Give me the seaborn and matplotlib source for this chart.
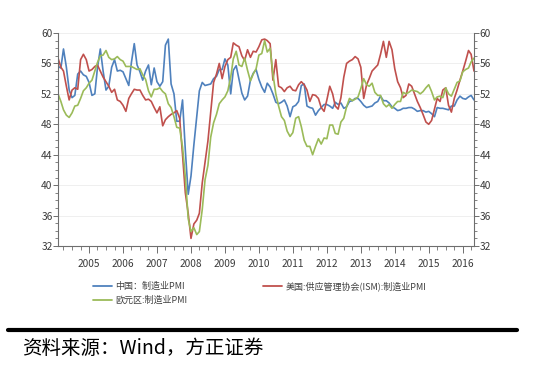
import pandas as pd
import matplotlib
matplotlib.use("Agg")
import matplotlib.pyplot as plt
import matplotlib.dates as mdates
from matplotlib.lines import Line2D
from matplotlib.ticker import MultipleLocator
import seaborn as sns

# monthly data, Jan 2005 - Apr 2017
months = pd.date_range("2005-01-01", periods=148, freq="MS")

china_pmi = [
    55.6, 55.4, 57.9, 55.5, 52.5, 51.5, 51.8, 54.6, 55.0, 54.5, 54.3, 53.5,  # 2005
    51.8, 52.0, 55.4, 57.9, 55.0, 52.5, 53.0, 55.5, 56.5, 55.0, 55.1, 54.9,  # 2006
    54.0, 53.1, 56.1, 58.6, 55.8, 54.9, 53.8, 55.0, 55.8, 53.2, 55.4, 53.6,  # 2007
    53.0, 53.6, 58.4, 59.2, 53.3, 52.0, 48.4, 48.4, 51.2, 44.6, 38.8, 41.2,  # 2008
    45.3, 49.0, 52.4, 53.5, 53.1, 53.2, 53.3, 54.0, 54.3, 55.2, 55.2, 56.6,  # 2009
    55.8, 52.0, 55.1, 55.7, 53.9, 52.1, 51.2, 51.7, 53.8, 54.7, 55.2, 53.9,  # 2010
    52.9, 52.2, 53.4, 52.9, 52.0, 50.9, 50.7, 50.9, 51.2, 50.4, 49.0, 50.3,  # 2011
    50.5, 51.0, 53.1, 53.3, 50.4, 50.2, 50.1, 49.2, 49.8, 50.2, 50.6, 50.6,  # 2012
    50.4, 50.1, 50.9, 50.6, 50.8, 50.1, 50.3, 51.0, 51.1, 51.4, 51.4, 51.0,  # 2013
    50.5, 50.2, 50.3, 50.4, 50.8, 51.0, 51.7, 51.1, 51.1, 50.8, 50.3, 50.1,  # 2014
    49.8, 49.9, 50.1, 50.1, 50.2, 50.2, 50.0, 49.7, 49.8, 49.8, 49.6, 49.7,  # 2015
    49.4, 49.0, 50.2, 50.1, 50.1, 50.0, 49.9, 50.4, 50.4, 51.2, 51.7, 51.4,  # 2016
    51.3, 51.6, 51.8, 51.2,                                                  # 2017
]

us_ism_pmi = [
    56.7, 55.5, 55.0, 53.0, 51.2, 52.5, 52.8, 52.6, 56.5, 57.2, 56.5, 55.0,
    55.2, 55.6, 55.8, 55.0, 54.2, 53.6, 53.0, 52.2, 52.6, 51.2, 51.0, 50.5,
    49.7, 51.4, 52.0, 52.6, 52.5, 52.5, 51.8, 51.2, 51.3, 51.0, 50.2, 49.5,
    50.3, 47.8, 48.6, 49.0, 49.3, 49.5, 49.8, 48.8, 44.0, 39.0, 36.3, 33.0,
    34.9, 35.4, 36.3, 40.3, 43.0, 45.8, 49.6, 53.5, 54.6, 56.0, 54.0, 55.6,
    56.5, 56.8, 58.7, 58.4, 58.2, 57.0, 56.4, 57.8, 56.8, 57.6, 57.5, 58.2,
    59.1, 59.2, 59.0, 58.6, 53.8, 56.5, 53.0, 52.8, 52.3, 52.8, 53.0, 52.5,
    52.4, 53.2, 53.6, 53.2, 52.5, 51.0, 51.9, 51.8, 51.4, 50.2, 49.7, 51.2,
    53.0, 52.0, 50.4, 50.0, 51.5, 54.2, 56.0, 56.3, 56.5, 56.9, 56.6, 55.5,
    51.4, 53.2, 54.0, 55.0, 55.4, 55.8, 57.2, 58.9, 56.8, 58.9, 57.8, 55.3,
    53.6, 52.8, 51.5, 51.8, 53.3, 53.0, 52.0, 51.0, 50.2, 49.3, 48.3, 48.0,
    48.5, 50.0, 51.4, 51.0, 52.5, 52.8, 50.5, 49.6, 51.4, 52.5, 53.8, 55.0,
    56.3, 57.7, 57.2, 55.0,
]

euro_pmi = [
    52.0, 51.0, 49.9, 49.2, 48.9, 49.5, 50.4, 50.5, 51.4, 52.4, 52.8, 53.4,
    53.8, 55.0, 56.1, 57.0, 57.1, 57.7, 56.8, 56.5, 56.6, 56.9, 56.5, 56.3,
    55.6, 55.6, 55.6, 55.4, 55.2, 55.3, 54.5, 53.9, 52.4, 51.6, 52.6, 52.6,
    52.8, 52.3, 52.0, 50.7, 50.2, 49.0, 47.6, 47.5, 45.0, 41.1, 35.6, 33.9,
    34.4, 33.5, 33.9, 36.8, 40.7, 42.6, 46.3, 48.2, 49.3, 50.7, 51.2, 51.6,
    52.4, 54.2, 56.6, 57.6, 55.8, 55.6, 56.7, 55.1, 53.7, 54.6, 55.3, 57.1,
    57.3, 59.0, 57.5, 58.0, 54.6, 52.0, 50.4, 49.0, 48.5, 47.1, 46.4, 46.9,
    48.8, 49.0, 47.7, 45.9, 45.1, 45.1, 44.0, 45.1, 46.1, 45.4, 46.2, 46.1,
    47.9, 47.9, 46.8, 46.7, 48.3, 48.8, 50.3, 51.4, 51.1, 51.3, 51.6, 52.7,
    54.0, 53.2, 53.0, 53.4, 52.2, 51.8, 51.8, 50.7, 50.3, 50.6, 50.1, 50.6,
    51.0, 51.0, 52.2, 52.0, 52.2, 52.5, 52.4, 52.3, 52.0, 52.3, 52.8, 53.2,
    52.3, 51.2, 51.6, 51.7, 51.5, 52.8, 52.0, 51.7, 52.6, 53.5, 53.7, 54.9,
    55.2, 55.4, 56.2, 56.7,
]

series_names = ["中国：制造业PMI", "美国:供应管理协会(ISM):制造业PMI", "欧元区:制造业PMI"]
series_colors = ["#4f81bd", "#c0504d", "#9bbb59"]
year_labels = [str(y) for y in range(2005, 2017)]
source_text = "资料来源：Wind，方正证券"

# long format for seaborn
df = pd.DataFrame({
    "date": months,
    series_names[0]: china_pmi,
    series_names[1]: us_ism_pmi,
    series_names[2]: euro_pmi,
}).melt(id_vars="date", var_name="series", value_name="pmi")

sns.set_theme(style="white")
plt.rcParams["font.family"] = ["Noto Sans CJK SC", "DejaVu Sans"]
plt.rcParams["axes.unicode_minus"] = False

W, H = 535, 366
fig = plt.figure(figsize=(W / 100, H / 100), dpi=100)
ax = fig.add_axes([58 / W, 1 - 246 / H, (474 - 58) / W, (246 - 33) / H])

sns.lineplot(data=df, x="date", y="pmi", hue="series", hue_order=series_names,
             palette=series_colors, linewidth=1.2, ax=ax, legend=False)

# axes
ax.set_xlim(months[0], months[-1])
ax.set_ylim(32, 60)
ax.set_xlabel("")
ax.set_ylabel("")

ax.yaxis.set_major_locator(MultipleLocator(4))
ax.yaxis.set_minor_locator(MultipleLocator(1))
tick_dates = pd.to_datetime([f"{y}-12-01" for y in year_labels])
ax.set_xticks(tick_dates)
ax.set_xticklabels(year_labels)
ax.xaxis.set_minor_locator(mdates.MonthLocator(bymonth=[3, 6, 9]))

ax.grid(True, axis="y", which="major", color="#ececec", linewidth=0.6)
ax.grid(False, axis="x")

for side in ["left", "right", "bottom"]:
    ax.spines[side].set_visible(True)
    ax.spines[side].set_color("#6e6e6e")
    ax.spines[side].set_linewidth(0.8)
ax.spines["top"].set_visible(False)

ax.tick_params(axis="y", which="major", direction="out", length=3.5, width=0.7,
               color="#6e6e6e", left=True, right=True, labelleft=True, labelright=True,
               labelsize=7.3, labelcolor="#3a3a3a", pad=0.5)
ax.tick_params(axis="y", which="minor", direction="out", length=2, width=0.6,
               color="#6e6e6e", left=True, right=True)
ax.tick_params(axis="x", which="major", direction="out", length=5, width=0.7,
               color="#6e6e6e", bottom=True, labelsize=7.3, labelcolor="#3a3a3a", pad=4.5)
ax.tick_params(axis="x", which="minor", direction="out", length=3, width=0.6,
               color="#6e6e6e", bottom=True)

# legend: China and Euro in first column, US in second
lines = ax.get_lines()
leg = ax.legend([lines[0], lines[2], lines[1]],
                [series_names[0], series_names[2], series_names[1]],
                ncol=2, frameon=False, fontsize=6.5,
                loc="upper left", bbox_to_anchor=(93 / W, 1 - 281 / H),
                bbox_transform=fig.transFigure,
                handlelength=2.1, handletextpad=0.35, columnspacing=8.4,
                labelspacing=0.55, borderpad=0, borderaxespad=0)
for t in leg.get_texts():
    t.set_color("#404040")
for h in leg.legend_handles:
    h.set_linewidth(1.3)

# bottom rule and source note
fig.add_artist(Line2D([8 / W, 517 / W], [1 - 330 / H, 1 - 330 / H],
                      color="black", linewidth=3, transform=fig.transFigure))
fig.text(22 / W, 1 - 348 / H, source_text, fontsize=14, color="black",
         ha="left", va="center")

fig.savefig("out.png", dpi=100)
